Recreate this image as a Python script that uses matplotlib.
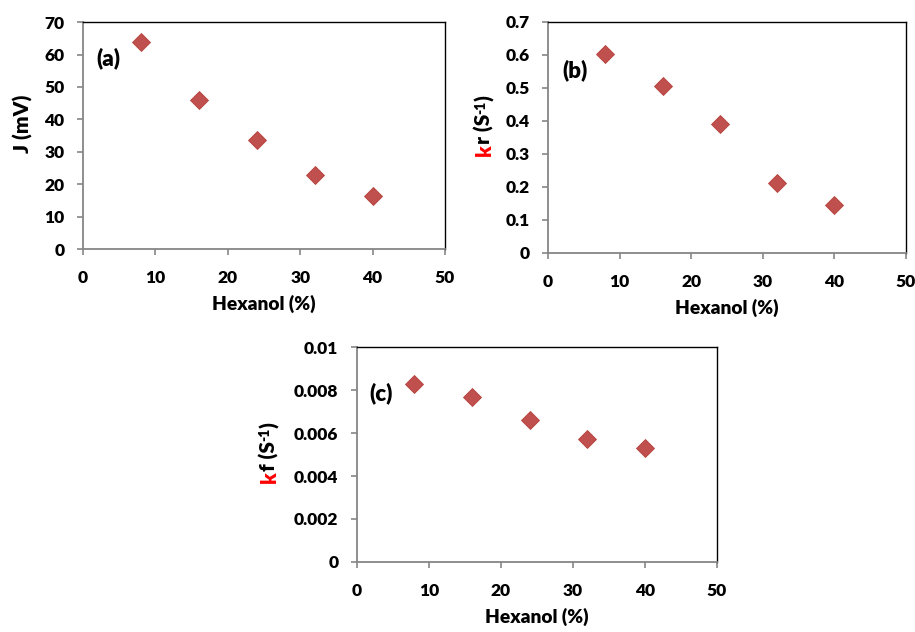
import matplotlib
matplotlib.use("Agg")
import matplotlib.pyplot as plt
from matplotlib.transforms import offset_copy

plt.rcParams['font.family'] = ['Lato', 'DejaVu Sans']
plt.rcParams['font.weight'] = 'heavy'

# data
hexanol = [8, 16, 24, 32, 40]
J_mV = [64, 46, 33.7, 22.8, 16.3]
kr = [0.602, 0.507, 0.39, 0.211, 0.145]
kf = [0.0083, 0.0077, 0.0066, 0.0057, 0.0053]

x_ticks = [0, 10, 20, 30, 40, 50]
J_ticks = [0, 10, 20, 30, 40, 50, 60, 70]
kr_ticks = [0, 0.1, 0.2, 0.3, 0.4, 0.5, 0.6, 0.7]
kf_ticks = [0, 0.002, 0.004, 0.006, 0.008, 0.01]
kr_labels = ['0', '0.1', '0.2', '0.3', '0.4', '0.5', '0.6', '0.7']
kf_labels = ['0', '0.002', '0.004', '0.006', '0.008', '0.01']

MARK = '#C0504D'
GRAY = '#868686'
W = 'heavy'
LFS = 15  # y label size
XFS = 13.8  # x label size

fig = plt.figure(figsize=(9.15, 6.32), dpi=100)
ax_a = fig.add_axes([0.0907, 0.606, 0.3956, 0.359])
ax_b = fig.add_axes([0.599, 0.5997, 0.391, 0.3655])
ax_c = fig.add_axes([0.390, 0.1108, 0.3934, 0.340])
renderer = fig.canvas.get_renderer()


def style(ax, yticks, ylabels, ymax):
    ax.set_xlim(0, 50)
    ax.set_ylim(0, ymax)
    ax.set_xticks(x_ticks)
    ax.set_yticks(yticks)
    ax.set_yticklabels(ylabels)
    for s in ['left', 'bottom']:
        ax.spines[s].set_color(GRAY)
        ax.spines[s].set_linewidth(1.3)
    for s in ['top', 'right']:
        ax.spines[s].set_color('black')
        ax.spines[s].set_linewidth(1.0)
    ax.tick_params(direction='out', length=4.3, width=1.2, color=GRAY,
                   labelsize=12.5)
    ax.tick_params(axis='y', pad=9)
    ax.tick_params(axis='x', pad=11)
    for lab in ax.get_xticklabels() + ax.get_yticklabels():
        lab.set_fontweight(W)
    ax.set_xlabel('Hexanol (%)', fontsize=XFS, fontweight=W, labelpad=6)


def text_w(s, fs):
    t = fig.text(0, 0, s, fontsize=fs, fontweight=W)
    w = t.get_window_extent(renderer).width
    t.remove()
    return w


def rotated_label(ax, pieces, xpos, ycenter):
    # pieces: (text, colour, fontsize, raise in px); drawn bottom to top
    starts = [0.0]
    for i in range(len(pieces) - 1):
        s, _, fs, _ = pieces[i]
        nxt = pieces[i + 1][0][0]
        step = text_w(s + nxt, fs) - text_w(nxt, fs)
        starts.append(starts[-1] + step)
    total = starts[-1] + text_w(pieces[-1][0], pieces[-1][2])
    h_ax = ax.get_window_extent(renderer).height
    y0 = ycenter - total / 2 / h_ax
    for (s, c, fs, rise), off in zip(pieces, starts):
        tr = offset_copy(ax.transAxes, fig=fig, x=-rise * 0.72, y=off * 0.72,
                         units='points')
        ax.text(xpos, y0, s, color=c, fontsize=fs, fontweight=W, rotation=90,
                rotation_mode='anchor', ha='left', va='baseline', transform=tr)


style(ax_a, J_ticks, [str(v) for v in J_ticks], 70)
style(ax_b, kr_ticks, kr_labels, 0.7)
style(ax_c, kf_ticks, kf_labels, 0.01)

for ax, vals in [(ax_a, J_mV), (ax_b, kr), (ax_c, kf)]:
    ax.plot(hexanol, vals, linestyle='none', marker='D', markersize=9,
            color=MARK, markeredgecolor='#B5403D', markeredgewidth=0.6)

rotated_label(ax_a, [('J (mV)', 'black', LFS, 0)], -0.148, 0.55)
rotated_label(ax_b, [('k', 'red', LFS, 0), ('r (S', 'black', LFS, 0),
                     ('-1', 'black', 10, 6), (')', 'black', LFS, 0)],
              -0.160, 0.552)
rotated_label(ax_c, [('k', 'red', LFS, 0), ('f (S', 'black', LFS, 0),
                     ('-1', 'black', 10, 6), (')', 'black', LFS, 0)],
              -0.226, 0.51)

ax_a.text(1.9, 59, '(a)', fontsize=16, fontweight=W, va='center')
ax_b.text(2.0, 0.555, '(b)', fontsize=16, fontweight=W, va='center')
ax_c.text(1.7, 0.00786, '(c)', fontsize=16, fontweight=W, va='center')

fig.savefig('out.png', dpi=100)
